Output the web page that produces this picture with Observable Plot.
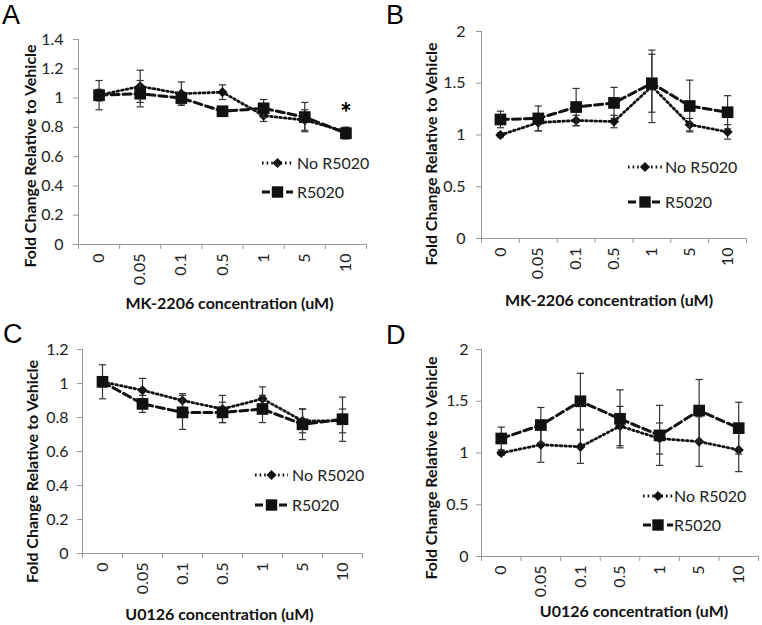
<!DOCTYPE html>
<html><head><meta charset="utf-8">
<script src="https://cdn.jsdelivr.net/npm/d3@7"></script>
<script src="https://cdn.jsdelivr.net/npm/@observablehq/plot@0.6"></script>
<style>
body{margin:0;background:#fff;}
#root{position:relative;width:762px;height:625px;overflow:hidden;background:#fff;font-family:Lato,"Open Sans",sans-serif;}
.panel{position:absolute;}
.letter{position:absolute;font-family:"Liberation Sans",Arial,sans-serif;font-size:27px;line-height:1;color:#000;}
</style></head><body><div id="root"></div>
<script>
// ---- data ----
const categories = ["0", "0.05", "0.1", "0.5", "1", "5", "10"];
const seriesNames = ["No R5020", "R5020"];

const yTicksA = [0, 0.2, 0.4, 0.6, 0.8, 1, 1.2, 1.4];
const yTicksB = [0, 0.5, 1, 1.5, 2];
const yTicksC = [0, 0.2, 0.4, 0.6, 0.8, 1, 1.2];
const yTicksD = [0, 0.5, 1, 1.5, 2];

const aNoR    = [1.02, 1.08, 1.03, 1.04, 0.88, 0.85, 0.77];
const aNoRErr = [0.04, 0.11, 0.08, 0.05, 0.04, 0.07, 0.03];
const aR      = [1.02, 1.03, 1.00, 0.91, 0.93, 0.87, 0.76];
const aRErr   = [0.10, 0.09, 0.04, 0.03, 0.06, 0.10, 0.04];
const aStarCategory = ["10"];
const aStarY = [0.95];

const bNoR    = [1.00, 1.12, 1.14, 1.13, 1.47, 1.10, 1.03];
const bNoRErr = [0.02, 0.08, 0.05, 0.06, 0.35, 0.06, 0.07];
const bR      = [1.15, 1.16, 1.27, 1.31, 1.50, 1.28, 1.22];
const bRErr   = [0.08, 0.12, 0.18, 0.15, 0.28, 0.25, 0.16];

const cNoR    = [1.01, 0.96, 0.90, 0.85, 0.91, 0.78, 0.78];
const cNoRErr = [0.03, 0.07, 0.04, 0.08, 0.07, 0.07, 0.07];
const cR      = [1.01, 0.88, 0.83, 0.83, 0.85, 0.76, 0.79];
const cRErr   = [0.10, 0.05, 0.10, 0.06, 0.08, 0.09, 0.13];

const dNoR    = [1.00, 1.08, 1.06, 1.26, 1.14, 1.11, 1.03];
const dNoRErr = [0.02, 0.17, 0.16, 0.19, 0.15, 0.24, 0.21];
const dR      = [1.14, 1.27, 1.50, 1.33, 1.17, 1.41, 1.24];
const dRErr   = [0.11, 0.17, 0.27, 0.28, 0.29, 0.30, 0.25];

const yLabel = "Fold Change Relative to Vehicle";
const xLabelMK = "MK-2206 concentration (uM)";
const xLabelU = "U0126 concentration (uM)";

// ---- helpers ----
const capSymbol = {draw(ctx, size) { const w = Math.sqrt(size / Math.PI); ctx.moveTo(-w, 0); ctx.lineTo(w, 0); }};
const idx = categories.map((_, i) => i);
const xDomain = [-0.5, categories.length - 0.5];
const boundaries = d3.range(categories.length + 1).map(i => i - 0.5);

function rows(vals, errs) { return vals.map((v, i) => ({i, v, lo: v - errs[i], hi: v + errs[i]})); }

const styles = [
  {dash: "1.6,3", sw: 2.8, symbol: "diamond2", r: 4.6, legSym: d3.symbolDiamond2, legSize: 66},
  {dash: "8,4", sw: 3, symbol: "square", r: 6.6, legSym: d3.symbolSquare, legSize: 130}
];

function seriesMarks(data, st) {
  return [
    Plot.line(data, {x: "i", y: "v", stroke: "#111", strokeWidth: st.sw, strokeDasharray: st.dash}),
    Plot.ruleX(data, {x: "i", y1: "lo", y2: "hi", stroke: "#333", strokeWidth: 1.2}),
    Plot.dot(data, {x: "i", y: "lo", symbol: capSymbol, r: 3.6, stroke: "#333", strokeWidth: 1.2, fill: "none"}),
    Plot.dot(data, {x: "i", y: "hi", symbol: capSymbol, r: 3.6, stroke: "#333", strokeWidth: 1.2, fill: "none"}),
    Plot.dot(data, {x: "i", y: "v", symbol: st.symbol, r: st.r, fill: "#111", stroke: "none"})
  ];
}

function panel(cfg) {
  const root = document.getElementById("root");
  const div = document.createElement("div");
  div.className = "panel";
  div.style.left = cfg.left + "px"; div.style.top = cfg.top + "px";
  root.appendChild(div);
  const letter = document.createElement("div");
  letter.className = "letter"; letter.textContent = cfg.letter;
  letter.style.left = cfg.letterPos[0] + "px"; letter.style.top = cfg.letterPos[1] + "px";
  root.appendChild(letter);

  const s1 = rows(cfg.noR, cfg.noRErr), s2 = rows(cfg.r, cfg.rErr);
  const m = cfg.margin;
  const marks = [
    Plot.axisY({ticks: cfg.yTicks, tickSize: 5, tickPadding: cfg.yPad, tickFormat: d => String(d), label: null, stroke: "#999", fill: "#222", fontSize: 16}),
    Plot.axisX({ticks: idx, tickSize: 0, tickPadding: 9, tickRotate: -90, tickFormat: i => categories[i], label: null, fill: "#222", fontSize: 16}),
    Plot.axisX({ticks: boundaries, tickSize: 5, tickFormat: () => "", label: null, stroke: "#999"}),
    Plot.ruleX([xDomain[0]], {stroke: "#999"}),
    Plot.ruleY([0], {stroke: "#999"}),
    ...seriesMarks(s1, styles[0]),
    ...seriesMarks(s2, styles[1]),
    Plot.text([yLabel], {frameAnchor: "left", textAnchor: "middle", lineAnchor: "middle", rotate: -90, dx: cfg.yLab[0], dy: cfg.yLab[1], fontWeight: "bold", fontSize: 16, fill: "#111"}),
    Plot.text([cfg.xLabel], {frameAnchor: "bottom", textAnchor: "middle", lineAnchor: "middle", dx: cfg.xLab[0], dy: cfg.xLab[1], fontWeight: "bold", fontSize: 16, fill: "#111"})
  ];
  if (cfg.star) {
    marks.push(Plot.text(cfg.star.cats.map((c, k) => ({i: categories.indexOf(c), y: cfg.star.ys[k]})),
      {x: "i", y: "y", text: () => "*", fontSize: 28, fontWeight: "bold", dy: 9, fill: "black"}));
  }
  const svg = Plot.plot({
    width: cfg.width, height: cfg.height,
    marginLeft: m[3], marginTop: m[0], marginRight: m[1], marginBottom: m[2],
    style: {fontFamily: "Lato, 'Open Sans', sans-serif", fontSize: "16px", background: "white", overflow: "visible"},
    x: {domain: xDomain},
    y: {domain: [0, cfg.yTicks[cfg.yTicks.length - 1]]},
    marks
  });
  div.appendChild(svg);
  // legend
  const g = d3.select(svg).append("g").attr("text-anchor", "start");
  const L = cfg.legend;
  seriesNames.forEach((name, k) => {
    const st = styles[k], y = L.ys[k];
    g.append("line").attr("x1", L.x1).attr("x2", L.x2).attr("y1", y).attr("y2", y)
      .attr("stroke", "#111").attr("stroke-width", st.sw).attr("stroke-dasharray", st.dash);
    g.append("path").attr("d", d3.symbol(st.legSym, st.legSize)()).attr("transform", `translate(${(L.x1 + L.x2) / 2},${y})`).attr("fill", "#111");
    g.append("text").attr("x", L.tx).attr("y", y).attr("dy", "0.35em").attr("text-anchor", "start")
      .attr("font-size", 16).attr("fill", "#222").text(name);
  });
}

panel({letter: "A", letterPos: [2, 2], left: 0, top: 0, width: 381, height: 312, margin: [39, 15, 68, 78],
  yTicks: yTicksA, yPad: 10, noR: aNoR, noRErr: aNoRErr, r: aR, rErr: aRErr, xLabel: xLabelMK,
  yLab: [-48, 14], xLab: [7, 59], legend: {x1: 262, x2: 293, tx: 297, ys: [163, 192]},
  star: {cats: aStarCategory, ys: aStarY}});
panel({letter: "B", letterPos: [386, 2], left: 381, top: 0, width: 381, height: 312, margin: [31, 16, 74, 100],
  yTicks: yTicksB, yPad: 11, noR: bNoR, noRErr: bNoRErr, r: bR, rErr: bRErr, xLabel: xLabelMK,
  yLab: [-50, 19], xLab: [-5, 62], legend: {x1: 247, x2: 281, tx: 284, ys: [167, 202]}});
panel({letter: "C", letterPos: [3, 321], left: 0, top: 312, width: 381, height: 313, margin: [37, 19, 72, 82],
  yTicks: yTicksC, yPad: 9, noR: cNoR, noRErr: cNoRErr, r: cR, rErr: cRErr, xLabel: xLabelU,
  yLab: [-50, 20], xLab: [-3, 61], legend: {x1: 255, x2: 288, tx: 292, ys: [163, 193]}});
panel({letter: "D", letterPos: [386, 322], left: 381, top: 312, width: 381, height: 313, margin: [37, 4, 69, 100],
  yTicks: yTicksD, yPad: 8, noR: dNoR, noRErr: dNoRErr, r: dR, rErr: dRErr, xLabel: xLabelU,
  yLab: [-50, 15], xLab: [14, 55], legend: {x1: 262, x2: 292, tx: 293, ys: [184, 213]}});
</script></body></html>
